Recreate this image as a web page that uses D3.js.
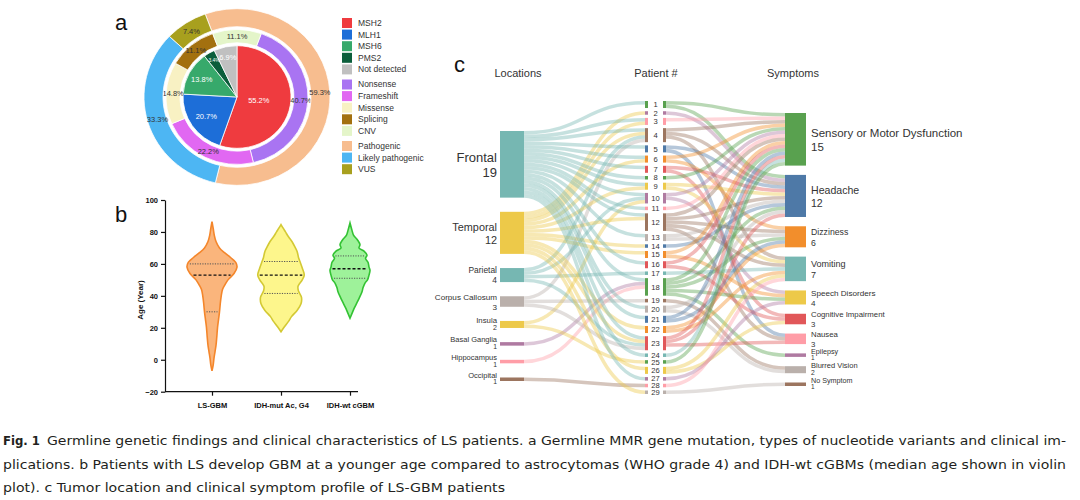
<!DOCTYPE html>
<html>
<head>
<meta charset="utf-8"/>
<script src="https://cdn.jsdelivr.net/npm/d3@7"></script>
<style>
html, body { margin: 0; padding: 0; background: #fff; }
svg text { font-family: "Liberation Sans", Arial, sans-serif; }
.axis text { font-weight: bold; font-size: 7.5px; fill: #111; }
.axis path, .axis line { stroke: #111; stroke-width: 1.2; }
svg text.caption { font-family: "DejaVu Sans Condensed", "DejaVu Sans", sans-serif; font-stretch: condensed; font-size: 13px; fill: #231f20; }
</style>
</head>
<body>
<svg id="fig" width="1080" height="500"></svg>
<script>
// ---------- panel a: MMR genes / variants / implications (percent) ----------
var genes = ["MSH2", "MLH1", "MSH6", "PMS2", "Not detected"];
var genePct = [55.2, 20.7, 13.8, 3.4, 6.9];
var variants = ["Nonsense", "Frameshift", "Missense", "Splicing", "CNV"];
var variantPct = [40.7, 22.2, 14.8, 11.1, 11.1];
var implications = ["Pathogenic", "Likely pathogenic", "VUS"];
var implicationPct = [59.3, 33.3, 7.4];

// ---------- panel b: age violins ----------
var groups = ["LS-GBM", "IDH-mut Ac, G4", "IDH-wt cGBM"];
var ageTicks = [-20, 0, 20, 40, 60, 80, 100];
// [age, relative density]
var lsDensity = [[-7,0],[-3,0.05],[1,0.08],[5,0.12],[9,0.16],[14,0.19],[20,0.22],[25,0.26],[30,0.3],[35,0.33],[40,0.37],[44,0.42],[47,0.52],[50,0.64],[54,0.88],[58,1.0],[61,0.95],[64,0.74],[67,0.5],[70,0.3],[74,0.16],[78,0.09],[82,0.05],[86.5,0]];
var mutDensity = [[17.5,0],[20.5,0.13],[24,0.3],[27,0.42],[31,0.65],[35,0.8],[39,0.82],[43,0.7],[46,0.68],[50,0.85],[53,0.93],[57,0.86],[61,0.77],[64,0.7],[67.5,0.65],[70.5,0.56],[73.7,0.45],[77,0.3],[80,0.18],[82.5,0.08],[84.6,0]];
var wtDensity = [[26,0],[29,0.08],[32,0.16],[37,0.32],[42.5,0.48],[45,0.52],[48,0.6],[50,0.7],[53,0.76],[56,0.8],[58,0.76],[61,0.72],[63.5,0.62],[65.5,0.68],[68,0.56],[70,0.36],[72,0.4],[75,0.3],[78,0.14],[81,0.08],[85.6,0]];
var medians = [53, 53, 57];
var q1 = [30, 41.5, 51];
var q3 = [60, 61.5, 65];

// ---------- panel c: sankey ----------
var locations = ["Frontal", "Temporal", "Parietal", "Corpus Callosum", "Insula", "Basal Ganglia", "Hippocampus", "Occipital"];
var locationCounts = [19, 12, 4, 3, 2, 1, 1, 1];
var symptoms = ["Sensory or Motor Dysfunction", "Headache", "Dizziness", "Vomiting", "Speech Disorders", "Cognitive Impairment", "Nausea", "Epilepsy", "Blurred Vision", "No Symptom"];
var symptomCounts = [15, 12, 6, 7, 4, 3, 3, 1, 2, 1];
var patients = ["1","2","3","4","5","6","7","8","9","10","11","12","13","14","15","16","17","18","19","20","21","22","23","24","25","26","27","28","29"];
// indices into locations / symptoms, one list per patient
var patientLocations = [[0],[1],[0,1],[0,1,2,3],[0],[0,1],[0],[0],[0,1],[0,2,4],[0],[0,1],[0],[1],[1],[0],[2],[0,5,6],[3],[0],[0],[1],[0,1,2,3],[0],[4],[1],[0],[7],[1]];
var patientSymptoms = [[0,1],[1],[0],[0,1,3],[1,6],[0,2],[1,5],[0],[1,3],[0,4],[0],[0,1,2,3,6],[1,2],[1],[0,4],[0,5],[3],[0,1,2,4,7],[8],[1,8],[0,2],[2,3],[0,1,6],[0],[0],[3,5],[4],[3],[9]];

var captionLines = [
  "Germline genetic findings and clinical characteristics of LS patients. a Germline MMR gene mutation, types of nucleotide variants and clinical im-",
  "plications. b Patients with LS develop GBM at a younger age compared to astrocytomas (WHO grade 4) and IDH-wt cGBMs (median age shown in violin",
  "plot). c Tumor location and clinical symptom profile of LS-GBM patients"
];

//---------------------------------------
var svg = d3.select("#fig");
svg.append("rect").attr("width", 1080).attr("height", 500).attr("fill", "#fff");

function letter(t, x, y) {
  svg.append("text").attr("x", x).attr("y", y).attr("font-size", 22).attr("fill", "#111").text(t);
}

//--------------------------------------- panel a
var geneColors = ["#ef3b3f", "#1d6ed8", "#37a96b", "#0b5e3b", "#c0c0c0"];
var variantColors = ["#a974f2", "#e168f2", "#f8f1c3", "#a3700f", "#e4f5c9"];
var implColors = ["#f7bd8f", "#4db6f3", "#a8a01e"];
var deg = Math.PI / 180;

letter("a", 115, 30);
var ga = svg.append("g").attr("transform", "translate(237,97) scale(1,0.95)");

// labelR: radius of the label, or a function of the slice value
function ring(values, colors, r0, r1, start, labelR, labelFill) {
  var pie = d3.pie().sort(null).startAngle(start * deg).endAngle(start * deg + 2 * Math.PI);
  var arc = d3.arc().innerRadius(r0).outerRadius(r1);
  var rl = typeof labelR === "function" ? labelR : function() { return labelR; };
  var arcs = pie(values);
  ga.append("g").selectAll("path").data(arcs).enter().append("path")
    .attr("d", arc)
    .attr("fill", function(d, i) { return colors[i]; })
    .attr("stroke", "#fff").attr("stroke-width", 0.8);
  ga.append("g").selectAll("text").data(arcs).enter().append("text")
    .attr("transform", function(d) {
      var r = rl(d.value);
      return "translate(" + d3.arc().innerRadius(r).outerRadius(r).centroid(d) + ")";
    })
    .attr("text-anchor", "middle").attr("dy", "0.35em")
    .attr("font-size", function(d) { return d.value < 5 ? 5 : 7.5; })
    .attr("fill", labelFill)
    .text(function(d) { return d.value.toFixed(1) + "%"; });
}
ring(genePct, geneColors, 0, 54, 0, d3.scaleLinear().domain([0, 60]).range([46, 20]), "#fff");
ring(variantPct, variantColors, 57, 71, 20, 64, "#333");
ring(implicationPct, implColors, 74, 93, -20, 83, "#333");

var legendItems = [];
genes.forEach(function(g, i) { legendItems.push({name: g, color: geneColors[i], grp: 0}); });
variants.forEach(function(g, i) { legendItems.push({name: g, color: variantColors[i], grp: 1}); });
implications.forEach(function(g, i) { legendItems.push({name: g, color: implColors[i], grp: 2}); });

var leg = svg.append("g").selectAll("g").data(legendItems).enter().append("g")
  .attr("transform", function(d, i) { return "translate(342," + (23 + i * 11.6 + d.grp * 3.5) + ")"; });
leg.append("rect").attr("y", -5).attr("width", 10).attr("height", 10).attr("fill", function(d) { return d.color; });
leg.append("text").attr("x", 16).attr("dy", "0.35em").attr("font-size", 8.5).attr("fill", "#333")
  .text(function(d) { return d.name; });

//--------------------------------------- panel b
letter("b", 115, 222);
var yb = d3.scaleLinear().domain([-20, 100]).range([391.7, 200]);
var xb = d3.scalePoint().domain(groups).range([212, 350]);
var wb = d3.scaleLinear().domain([0, 1]).range([0, 25]);

svg.append("g").attr("class", "axis").attr("transform", "translate(165,0)")
  .call(d3.axisLeft(yb).tickValues(ageTicks).tickSize(4).tickSizeOuter(0));
var gx = svg.append("g").attr("class", "axis").attr("transform", "translate(0,391.7)")
  .call(d3.axisBottom(xb).tickSize(4).tickSizeOuter(0).tickPadding(7));
gx.select(".domain").attr("d", "M165,0H" + (xb(groups[2]) + 8));

svg.append("text").attr("transform", "translate(143,300) rotate(-90)")
  .attr("text-anchor", "middle").attr("font-size", 8).attr("font-weight", "bold").attr("fill", "#111")
  .text("Age (Year)");

var violinData = [lsDensity, mutDensity, wtDensity];
var violinFill = ["#fab57c", "#fdf68c", "#9ef29a"];
var violinStroke = ["#f4862b", "#d3c934", "#33c233"];

violinData.forEach(function(dens, i) {
  var cx = xb(groups[i]);
  var area = d3.area().curve(d3.curveCatmullRom)
    .y(function(d) { return yb(d[0]); })
    .x0(function(d) { return cx - wb(d[1]); })
    .x1(function(d) { return cx + wb(d[1]); });
  svg.append("path").datum(dens).attr("d", area)
    .attr("fill", violinFill[i]).attr("stroke", violinStroke[i]).attr("stroke-width", 1.6);

  var interp = d3.scaleLinear().domain(dens.map(function(d) { return d[0]; })).range(dens.map(function(d) { return d[1]; }));
  [[q3[i], "q"], [medians[i], "m"], [q1[i], "q"]].forEach(function(q) {
    var hw = wb(interp(q[0])) - 2;
    svg.append("line")
      .attr("x1", cx - hw).attr("x2", cx + hw)
      .attr("y1", yb(q[0])).attr("y2", yb(q[0]))
      .attr("stroke", q[1] === "m" ? "#111" : "#555")
      .attr("stroke-width", q[1] === "m" ? 1.4 : 1)
      .attr("stroke-dasharray", q[1] === "m" ? "3,2" : "1.2,1.3");
  });
});

//--------------------------------------- panel c
letter("c", 454, 72);
var tab = {blue: "#4e79a7", orange: "#f28e2c", red: "#e15759", teal: "#76b7b2", green: "#59a14f",
           yellow: "#edc949", purple: "#af7aa1", pink: "#ff9da7", brown: "#9c755f", grey: "#bab0ab"};
var locColors = ["teal", "yellow", "teal", "grey", "yellow", "purple", "pink", "brown"];
var symColors = ["green", "blue", "orange", "teal", "yellow", "red", "pink", "purple", "grey", "brown"];
var patColors = ["green","purple","pink","brown","blue","orange","red","green","yellow","purple","pink","brown","grey","blue","orange","red","teal","green","brown","grey","blue","orange","red","teal","green","yellow","purple","pink","grey"];

var midPad = 3.2;
var midTop = 101, midBottom = 394;
var patValues = patients.map(function(p, i) { return Math.max(patientLocations[i].length, patientSymptoms[i].length); });
var k = (midBottom - midTop - (patients.length - 1) * midPad) / d3.sum(patValues);

function stack(values, y0, y1) {
  var pad = (y1 - y0 - d3.sum(values) * k) / (values.length - 1);
  var y = y0;
  return values.map(function(v) {
    var n = {y0: y, y1: y + v * k};
    y = n.y1 + pad;
    return n;
  });
}
var locNodes = stack(locationCounts, 131, 381);
var patNodes = stack(patValues, midTop, midBottom);
var symNodes = stack(symptomCounts, 113, 386);

var xLoc0 = 500, xLoc1 = 524, xPatL = 645, xPatR = 663, bw = 3, xSym0 = 785, xSym1 = 806;

var leftLinks = [], rightLinks = [];
patients.forEach(function(p, i) {
  patientLocations[i].forEach(function(l) { leftLinks.push({s: locNodes[l], t: patNodes[i], color: tab[locColors[l]]}); });
  patientSymptoms[i].forEach(function(s) { rightLinks.push({s: patNodes[i], t: symNodes[s], color: tab[patColors[i]]}); });
});

function placeLinks(links) {
  var bySrc = d3.group(links, function(d) { return d.s; });
  bySrc.forEach(function(ls, node) {
    ls.sort(function(a, b) { return a.t.y0 - b.t.y0; });
    ls.forEach(function(l, j) { l.sy = node.y0 + (j + 0.5) * k; });
  });
  var byTgt = d3.group(links, function(d) { return d.t; });
  byTgt.forEach(function(ls, node) {
    ls.sort(function(a, b) { return a.s.y0 - b.s.y0; });
    ls.forEach(function(l, j) { l.ty = node.y0 + (j + 0.5) * k; });
  });
}
placeLinks(leftLinks);
placeLinks(rightLinks);

var linkGen = d3.linkHorizontal();
function drawLinks(links, x0, x1) {
  svg.append("g").attr("fill", "none").attr("stroke-opacity", 0.42)
    .selectAll("path").data(links).enter().append("path")
    .attr("d", function(d) { return linkGen({source: [x0, d.sy], target: [x1, d.ty]}); })
    .attr("stroke", function(d) { return d.color; })
    .attr("stroke-width", k);
}
drawLinks(leftLinks, xLoc1, xPatL);
drawLinks(rightLinks, xPatR + bw, xSym0);

// nodes
svg.append("g").selectAll("rect").data(locNodes).enter().append("rect")
  .attr("x", xLoc0).attr("width", xLoc1 - xLoc0)
  .attr("y", function(d) { return d.y0; }).attr("height", function(d) { return d.y1 - d.y0; })
  .attr("fill", function(d, i) { return tab[locColors[i]]; });
svg.append("g").selectAll("rect").data(symNodes).enter().append("rect")
  .attr("x", xSym0).attr("width", xSym1 - xSym0)
  .attr("y", function(d) { return d.y0; }).attr("height", function(d) { return d.y1 - d.y0; })
  .attr("fill", function(d, i) { return tab[symColors[i]]; });
[xPatL, xPatR].forEach(function(bx) {
  svg.append("g").selectAll("rect").data(patNodes).enter().append("rect")
    .attr("x", bx).attr("width", bw)
    .attr("y", function(d) { return d.y0; }).attr("height", function(d) { return d.y1 - d.y0; })
    .attr("fill", function(d, i) { return tab[patColors[i]]; });
});

// labels
var locFont = d3.scaleLinear().domain([1, 19]).range([7.5, 13]);
var symFont = d3.scaleLinear().domain([1, 15]).range([7.2, 11.5]);
function nodeLabels(nodes, names, counts, x, anchor, fontScale) {
  var t = svg.append("g").selectAll("text").data(nodes).enter().append("text")
    .attr("text-anchor", anchor).attr("fill", "#333")
    .attr("font-size", function(d, i) { return fontScale(counts[i]); })
    .attr("y", function(d, i) { return (d.y0 + d.y1) / 2 - 0.2 * fontScale(counts[i]); });
  t.append("tspan").attr("x", x).text(function(d, i) { return names[i]; });
  t.append("tspan").attr("x", x)
    .attr("dy", function(d, i) { return counts[i] < 3 ? "1.0em" : "1.2em"; })
    .attr("font-size", function(d, i) { return counts[i] < 3 ? "0.9em" : null; })
    .text(function(d, i) { return counts[i]; });
}
nodeLabels(locNodes, locations, locationCounts, 497, "end", locFont);
nodeLabels(symNodes, symptoms, symptomCounts, 811, "start", symFont);

svg.append("g").selectAll("text").data(patNodes).enter().append("text")
  .attr("x", (xPatL + bw + xPatR) / 2).attr("y", function(d) { return (d.y0 + d.y1) / 2; })
  .attr("dy", "0.35em").attr("text-anchor", "middle").attr("font-size", 7.6).attr("fill", "#333")
  .text(function(d, i) { return patients[i]; });

var headers = [["Locations", 518], ["Patient #", 656], ["Symptoms", 793]];
svg.append("g").selectAll("text").data(headers).enter().append("text")
  .attr("x", function(d) { return d[1]; }).attr("y", 77)
  .attr("text-anchor", "middle").attr("font-size", 11).attr("fill", "#333")
  .text(function(d) { return d[0]; });

//--------------------------------------- caption
svg.append("text").attr("class", "caption").attr("x", 3).attr("y", 445)
  .attr("font-weight", "bold").attr("textLength", 37).attr("lengthAdjust", "spacingAndGlyphs").text("Fig. 1");
var capX = [47, 3, 3], capW = [1019, 1063, 502];
captionLines.forEach(function(line, i) {
  svg.append("text").attr("class", "caption").attr("x", capX[i]).attr("y", 445 + i * 23.5)
    .attr("textLength", capW[i]).attr("lengthAdjust", "spacingAndGlyphs").text(line);
});
</script>
</body>
</html>
